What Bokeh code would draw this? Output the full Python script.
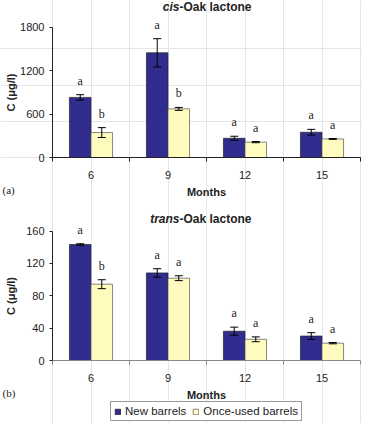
from bokeh.plotting import figure
from bokeh.models import (Range1d, FixedTicker, ColumnDataSource, Whisker, TeeHead,
                          Label, LabelSet, Legend, LegendItem, LinearAxis)
from bokeh.embed import file_html
from bokeh.resources import INLINE

months = ["6", "9", "12", "15"]
series = ["New barrels", "Once-used barrels"]

cis_new = [829, 1444, 265, 348]
cis_new_err = [37, 195, 28, 40]
cis_once = [344, 671, 212, 256]
cis_once_err = [68, 20, 8, 6]
cis_new_letters = ["a", "a", "a", "a"]
cis_once_letters = ["b", "b", "a", "a"]
cis_yticks = [0, 600, 1200, 1800]

trans_new = [143.3, 108.2, 36.2, 30.2]
trans_new_err = [1.0, 5.2, 5.0, 4.2]
trans_once = [94.3, 101.7, 26.2, 21.4]
trans_once_err = [5.5, 3.0, 3.0, 0.8]
trans_new_letters = ["a", "a", "a", "a"]
trans_once_letters = ["b", "a", "a", "a"]
trans_yticks = [0, 40, 80, 120, 160]

NEW_COLOR = "#302d8f"
ONCE_COLOR = "#fffbbf"
FONT = "Liberation Sans"
TXT = "#222222"
BW = 0.28

# layout (canvas pixels, measured from top-left)
W, H = 362, 423
X0_PX, X1_PX = 52, 360          # category axis start / end
n = len(months)
sx = (X1_PX - X0_PX) / n


def y_range_for(top_px, zero_px, ymax):
    s = (zero_px - top_px) / ymax
    return Range1d(-(H - zero_px) / s, ymax + top_px / s)


p = figure(width=W, height=H, output_backend="svg", toolbar_location=None,
           x_range=Range1d(-X0_PX / sx, n + (W - X1_PX) / sx),
           y_range=y_range_for(26.5, 157.0, cis_yticks[-1]),
           x_axis_location=None, y_axis_location=None,
           min_border=0)
p.extra_y_ranges = {"b": y_range_for(230.5, 360.0, trans_yticks[-1])}
p.outline_line_color = None
p.background_fill_color = "white"
p.border_fill_color = "white"


def chart(rname, t_ital, t_rest, title_off, panel, new, new_err, once, once_err,
          l_new, l_once, yticks, xcolor, ylab_standoff):
    centers = [i + 0.5 for i in range(n)]
    rends = []
    for vals, errs, lets, off, col, lc in (
            (new, new_err, l_new, -BW / 2, NEW_COLOR, "#222222"),
            (once, once_err, l_once, BW / 2, ONCE_COLOR, "#555555")):
        s = ColumnDataSource(dict(x=[c + off for c in centers], top=vals,
                                  upper=[v + e for v, e in zip(vals, errs)],
                                  lower=[v - e for v, e in zip(vals, errs)],
                                  txt=lets))
        r = p.vbar(x="x", top="top", width=BW, source=s, fill_color=col,
                   line_color=lc, line_width=0.7, y_range_name=rname)
        p.add_layout(Whisker(source=s, base="x", upper="upper", lower="lower",
                             y_range_name=rname, line_color="black", line_width=1,
                             level="overlay",
                             upper_head=TeeHead(size=8, line_color="black", line_width=1),
                             lower_head=TeeHead(size=8, line_color="black", line_width=1)))
        p.add_layout(LabelSet(source=s, x="x", y="upper", text="txt", y_offset=10,
                              y_range_name=rname, text_align="center",
                              text_baseline="alphabetic", text_font=FONT,
                              text_font_size="12px", text_color=TXT))
        rends.append(r)

    xa = LinearAxis(y_range_name=rname, fixed_location=0, bounds=(0, n))
    xa.ticker = FixedTicker(ticks=centers, minor_ticks=list(range(n + 1)))
    xa.major_label_overrides = {c: m for c, m in zip(centers, months)}
    xa.major_tick_line_color = None
    xa.major_tick_out = 0
    xa.major_tick_in = 0
    xa.minor_tick_out = 4
    xa.minor_tick_in = 0
    xa.minor_tick_line_color = xcolor
    xa.axis_line_color = xcolor
    xa.major_label_standoff = 9
    xa.major_label_text_font = FONT
    xa.major_label_text_font_size = "11px"
    xa.major_label_text_color = TXT
    xa.axis_label = "Months"
    xa.axis_label_text_font = FONT
    xa.axis_label_text_font_size = "11px"
    xa.axis_label_text_font_style = "bold"
    xa.axis_label_text_color = TXT
    xa.axis_label_standoff = 4
    p.add_layout(xa, "below")

    ya = LinearAxis(y_range_name=rname, fixed_location=0, bounds=(0, yticks[-1]))
    ya.ticker = FixedTicker(ticks=yticks, minor_ticks=[])
    ya.major_tick_out = 3
    ya.major_tick_in = 0
    ya.axis_line_color = TXT
    ya.major_tick_line_color = TXT
    ya.major_label_standoff = 5
    ya.major_label_text_font = FONT
    ya.major_label_text_font_size = "11px"
    ya.major_label_text_color = TXT
    ya.axis_label = "C (\u03bcg/l)"
    ya.axis_label_text_font = FONT
    ya.axis_label_text_font_size = "11px"
    ya.axis_label_text_font_style = "bold"
    ya.axis_label_text_color = TXT
    ya.axis_label_standoff = ylab_standoff
    p.add_layout(ya, "left")

    split = -27
    for txt, align, style in ((t_ital, "right", "bold italic"), (t_rest, "left", "bold")):
        p.add_layout(Label(x=n / 2, y=yticks[-1], y_range_name=rname, x_offset=split,
                           y_offset=title_off, text=txt, text_align=align,
                           text_baseline="middle", text_font=FONT,
                           text_font_size="12px", text_font_style=style,
                           text_color=TXT))
    p.add_layout(Label(x=0, y=0, y_range_name=rname, x_offset=-X0_PX + 2, y_offset=-32,
                       text=panel, text_align="left", text_baseline="middle",
                       text_font="Liberation Serif", text_font_size="11px",
                       text_color=TXT))
    return rends


chart("default", "cis", "-Oak lactone", 20, "(a)", cis_new, cis_new_err, cis_once,
      cis_once_err, cis_new_letters, cis_once_letters, cis_yticks, TXT, 0)
rn, ro = chart("b", "trans", "-Oak lactone", 12, "(b)", trans_new, trans_new_err,
               trans_once, trans_once_err, trans_new_letters, trans_once_letters,
               trans_yticks, "#888888", 6)

legend = Legend(items=[LegendItem(label=series[0], renderers=[rn]),
                       LegendItem(label=series[1], renderers=[ro])],
                orientation="horizontal", location=(110, 2),
                label_text_font=FONT, label_text_font_size="11.5px",
                label_text_color=TXT, label_height=10, label_standoff=4,
                glyph_width=7, glyph_height=7, spacing=6, padding=3, margin=0,
                border_line_color="#333333", border_line_width=1,
                background_fill_color="white", background_fill_alpha=1)
p.add_layout(legend)

open("out.html", "w").write(file_html(p, INLINE))
